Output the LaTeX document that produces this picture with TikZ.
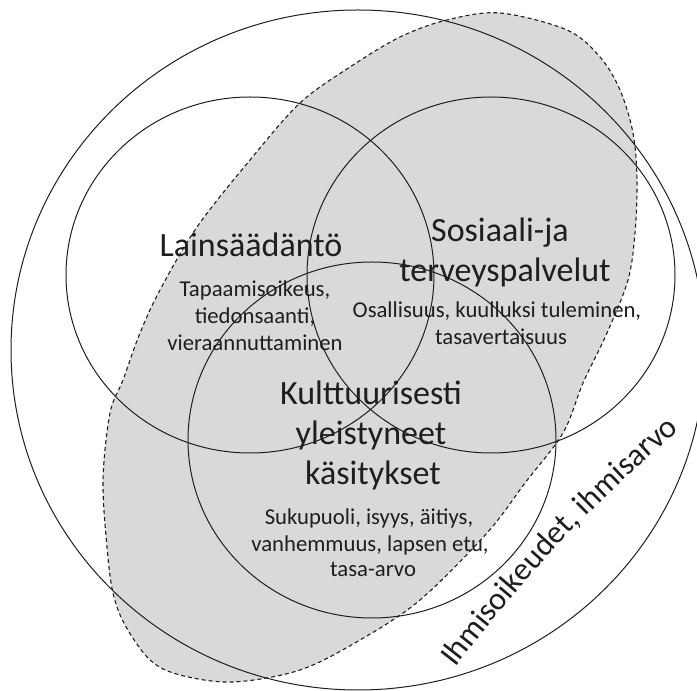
\documentclass[tikz,border=0pt]{standalone}
\usepackage{fontspec}
\setmainfont{Carlito}
\usetikzlibrary{decorations.text}
\definecolor{blobgray}{RGB}{217,217,217}
\definecolor{ink}{RGB}{30,30,30}
\begin{document}
\begin{tikzpicture}[x=1pt,y=1pt,
  ring/.style={draw=ink, line width=1pt},
  bigtxt/.style={font=\fontsize{34}{40}\selectfont, text=ink, anchor=base, inner sep=0pt},
  smalltxt/.style={font=\fontsize{22.7}{27}\selectfont, text=ink, anchor=base, inner sep=0pt},
  blobline/.style={draw=ink, line width=1.1pt, dash pattern=on 4pt off 3pt}]
\useasboundingbox (0,0) rectangle (697,691);
\clip (0,0) rectangle (697,691);
\def\blobpts{(447,671) (500,678) (567,661) (600,634) (620,601) (633,558) (637,511) (635,458) (628,411) (607,358) (583,308) (563,258) (525,208) (487,158) (420,91) (360,51) (300,21) (233,9) (180,16) (150,31) (125,66) (113,98) (107,144) (103,211) (110,278) (123,311) (140,358) (160,401) (197,464) (250,531) (300,588) (350,624) (400,654)}
\fill[blobgray] plot[smooth cycle, tension=0.55] coordinates {\blobpts};
\draw[ring] (358,341) ellipse [x radius=347, y radius=340];
\draw[ring] (250,416) ellipse [x radius=184, y radius=178];
\draw[ring] (491,416) ellipse [x radius=184, y radius=178];
\draw[ring] (372,251) ellipse [x radius=184, y radius=178];
\draw[blobline] plot[smooth cycle, tension=0.55] coordinates {\blobpts};
% Lainsaadanto
\node[bigtxt] (lain) at (251,434) {Lainsäädäntö};
\node[smalltxt] (lain1) at (255,394) {Tapaamisoikeus,};
\node[smalltxt] (lain2) at (255,367) {tiedonsaanti,};
\node[smalltxt] (lain3) at (255,340) {vieraannuttaminen};
% Sosiaali
\node[bigtxt] (sos1) at (500,449) {Sosiaali-ja};
\node[bigtxt] (sos2) at (505,409) {terveyspalvelut};
\node[smalltxt] (sos3) at (497,373) {Osallisuus, kuulluksi tuleminen,};
\node[smalltxt] (sos4) at (501,346) {tasavertaisuus};
% Kulttuuri
\node[bigtxt] (kul1) at (371,286) {Kulttuurisesti};
\node[bigtxt] (kul2) at (371,246) {yleistyneet};
\node[bigtxt] (kul3) at (373,206) {käsitykset};
\node[smalltxt] (kul4) at (369,166) {Sukupuoli, isyys, äitiys,};
\node[smalltxt] (kul5) at (370,139) {vanhemmuus, lapsen etu,};
\node[smalltxt] (kul6) at (373,114) {tasa-arvo};
% ring text
\path[decorate, decoration={text along path, text color=ink,
  text={|\fontsize{32}{38}\selectfont|Ihmisoikeudet, ihmisarvo}, text align=left}]
  (455,23) to[bend left=6] (702,280);
\end{tikzpicture}
\end{document}
